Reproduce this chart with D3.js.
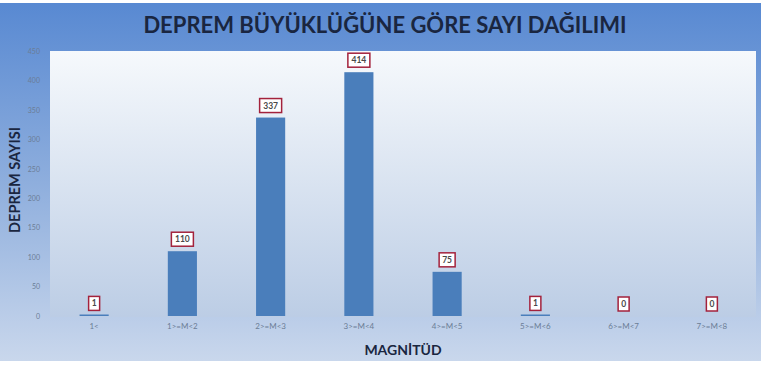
<!DOCTYPE html>
<html>
<head>
<meta charset="utf-8">
<script src="https://cdn.jsdelivr.net/npm/d3@7"></script>
<style>
  body { margin: 0; background: #fff; }
  svg text { font-family: Lato, "Open Sans", sans-serif; }
</style>
</head>
<body>
<div id="chart"></div>
<script>
// kategoriler ve deprem sayilari
var categories = ['1<', '1>=M<2', '2>=M<3', '3>=M<4', '4>=M<5', '5>=M<6', '6>=M<7', '7>=M<8'];
var counts = [1, 110, 337, 414, 75, 1, 0, 0];
var yTicks = [0, 50, 100, 150, 200, 250, 300, 350, 400, 450];

var width = 770, height = 365;
var margin = {top: 51, right: 14, bottom: 49, left: 50};
var innerW = 706;
var innerH = height - margin.top - margin.bottom;

var data = categories.map(function(c, i) { return {cat: c, value: counts[i]}; });

var svg = d3.select('#chart').append('svg')
  .attr('width', width)
  .attr('height', height);

var defs = svg.append('defs');
var bgGrad = defs.append('linearGradient').attr('id', 'bg').attr('x1', 0).attr('y1', 0).attr('x2', 0).attr('y2', 1);
bgGrad.append('stop').attr('offset', '0%').attr('stop-color', '#5889d2');
bgGrad.append('stop').attr('offset', '50%').attr('stop-color', '#8eaedd');
bgGrad.append('stop').attr('offset', '100%').attr('stop-color', '#c9d7ec');

var plotGrad = defs.append('linearGradient').attr('id', 'plotbg').attr('x1', 0).attr('y1', 0).attr('x2', 0).attr('y2', 1);
plotGrad.append('stop').attr('offset', '0%').attr('stop-color', '#f6f9fc');
plotGrad.append('stop').attr('offset', '100%').attr('stop-color', '#bccde5');

// dis cerceve
svg.append('rect')
  .attr('x', 0).attr('y', 3)
  .attr('width', 761).attr('height', 358)
  .attr('fill', 'url(#bg)');

var g = svg.append('g').attr('transform', 'translate(' + margin.left + ',' + margin.top + ')');

g.append('rect')
  .attr('width', innerW)
  .attr('height', innerH + 1)
  .attr('fill', 'url(#plotbg)');

var x = d3.scaleBand().domain(categories).range([0, innerW])
  .paddingInner(0.67).paddingOuter(0.335);
var y = d3.scaleLinear().domain([0, 450]).range([innerH, 0]);

// y ekseni
var yAxis = d3.axisLeft(y).tickValues(yTicks).tickSize(0).tickPadding(10);
g.append('g').call(yAxis)
  .call(function(s) {
    s.select('.domain').remove();
    s.selectAll('text').attr('fill', '#6b7d96').attr('font-size', 7);
  });

// x ekseni
var xAxis = d3.axisBottom(x).tickSize(0).tickPadding(7);
g.append('g').attr('transform', 'translate(0,' + innerH + ')').call(xAxis)
  .call(function(s) {
    s.select('.domain').remove();
    s.selectAll('text').attr('fill', '#6b7d96').attr('font-size', 8);
  });

// cubuklar
g.selectAll('.bar')
  .data(data)
  .enter().append('rect')
  .attr('class', 'bar')
  .attr('x', function(d) { return x(d.cat); })
  .attr('width', x.bandwidth())
  .attr('y', function(d) { return Math.min(y(d.value), innerH - (d.value > 0 ? 1.5 : 0)); })
  .attr('height', function(d) { return d.value > 0 ? Math.max(innerH - y(d.value), 1.5) : 0; })
  .attr('fill', '#4a7ebb');

// kutulu deger etiketleri
var lbl = g.selectAll('.lbl')
  .data(data)
  .enter().append('g')
  .attr('class', 'lbl')
  .attr('transform', function(d) {
    return 'translate(' + (x(d.cat) + x.bandwidth() / 2) + ',' + (y(d.value) - 12) + ')';
  });

lbl.append('rect')
  .attr('x', function(d) { return d.value >= 100 ? -11 : (d.value >= 10 ? -8 : -5.5); })
  .attr('width', function(d) { return d.value >= 100 ? 22 : (d.value >= 10 ? 16 : 11); })
  .attr('y', -7)
  .attr('height', 14)
  .attr('fill', '#fff')
  .attr('stroke', '#a3223c')
  .attr('stroke-width', 1.5);

lbl.append('text')
  .attr('text-anchor', 'middle')
  .attr('dy', '0.35em')
  .attr('font-size', 8.5)
  .attr('font-weight', 'bold')
  .attr('fill', '#4a4a4a')
  .text(function(d) { return d.value; });

// baslik
svg.append('text')
  .attr('x', 385).attr('y', 33)
  .attr('text-anchor', 'middle')
  .attr('font-size', 22)
  .attr('font-weight', 'bold')
  .attr('fill', '#1a2640')
  .text('DEPREM BÜYÜKLÜĞÜNE GÖRE SAYI DAĞILIMI');

// eksen basliklari
svg.append('text')
  .attr('x', margin.left + innerW / 2)
  .attr('y', 355)
  .attr('text-anchor', 'middle')
  .attr('font-size', 14)
  .attr('font-weight', 'bold')
  .attr('fill', '#1a2640')
  .text('MAGNİTÜD');

svg.append('text')
  .attr('transform', 'translate(20,' + 180 + ') rotate(-90)')
  .attr('text-anchor', 'middle')
  .attr('font-size', 14.5)
  .attr('font-weight', 'bold')
  .attr('fill', '#1a2640')
  .text('DEPREM SAYISI');
</script>
</body>
</html>
